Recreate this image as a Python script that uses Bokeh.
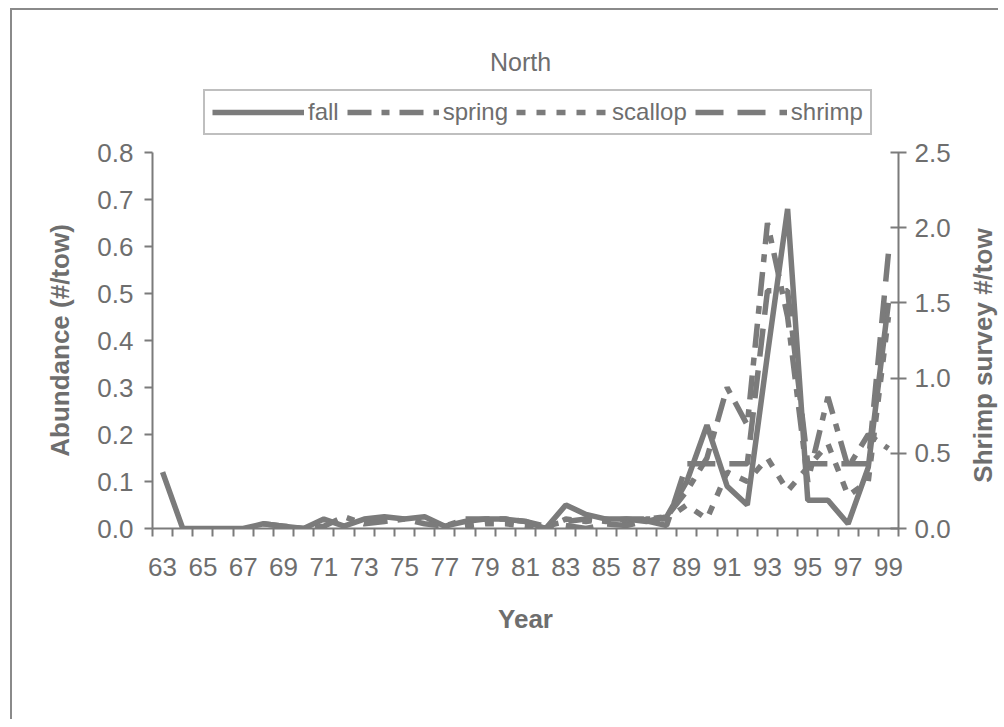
import math
from bokeh.plotting import figure
from bokeh.layouts import column, row
from bokeh.models import (Range1d, LinearAxis, FixedTicker, Legend, LegendItem, Label,
                          PrintfTickFormatter)
from bokeh.embed import file_html
from bokeh.resources import INLINE

nan = float("nan")

years = [63, 64, 65, 66, 67, 68, 69, 70, 71, 72, 73, 74, 75, 76, 77, 78, 79, 80, 81,
         82, 83, 84, 85, 86, 87, 88, 89, 90, 91, 92, 93, 94, 95, 96, 97, 98, 99]
year_labels = [63, 65, 67, 69, 71, 73, 75, 77, 79, 81, 83, 85, 87, 89, 91, 93, 95, 97, 99]

fall = [0.12, 0.0, 0.0, 0.0, 0.0, 0.01, 0.005, 0.0, 0.02, 0.005,
        0.02, 0.025, 0.02, 0.025, 0.005, 0.015, 0.02, 0.02, 0.015, 0.0,
        0.05, 0.03, 0.02, 0.02, 0.015, 0.025, 0.1, 0.22, 0.09, 0.05,
        0.37, 0.68, 0.06, 0.06, 0.01, 0.13, 0.48]
spring = [nan, nan, nan, nan, nan, 0.01, 0.005, 0.0, 0.005, 0.025,
          0.01, 0.015, 0.02, 0.01, 0.005, 0.02, 0.02, 0.02, 0.015, 0.005,
          0.015, 0.02, 0.015, 0.02, 0.02, 0.025, 0.08, 0.15, 0.30, 0.22,
          0.65, 0.45, 0.10, 0.28, 0.13, 0.20, 0.17]
scallop = [nan, nan, nan, nan, nan, nan, nan, nan, nan, nan,
           nan, nan, nan, nan, nan, 0.005, 0.01, 0.01, 0.005, 0.0,
           0.02, 0.015, 0.02, 0.01, 0.02, 0.02, 0.05, 0.02, 0.12, 0.10,
           0.15, 0.08, 0.13, 0.18, 0.07, 0.10, 0.45]
shrimp = [nan, nan, nan, nan, nan, nan, nan, nan, nan, nan,
          nan, nan, nan, nan, nan, nan, nan, nan, nan, nan,
          0.02, 0.0, 0.03, 0.02, 0.05, 0.02, 0.43, 0.43, 0.43, 0.43,
          1.58, 1.58, 0.43, 0.43, 0.43, 0.43, 1.83]

series_names = ["fall", "spring", "scallop", "shrimp"]
left_ticks = [0.0, 0.1, 0.2, 0.3, 0.4, 0.5, 0.6, 0.7, 0.8]
right_ticks = [0.0, 0.5, 1.0, 1.5, 2.0, 2.5]

GRAY = "#7b7b7b"
TXT = "#6e6e6e"
FONT = "Liberation Sans"
W = 5.5
DASHES = ["solid", "24 10 8 10", "9 11", "28 14"]

TOTAL_W = 986
TOP_H = 126
BOT_H = 709 - TOP_H
STRIP_W = 44
MAIN_W = TOTAL_W - STRIP_W
B_LEFT, B_TOP, B_BOTTOM = 140, 16, 191
FRAME_W = 746
B_RIGHT = MAIN_W - B_LEFT - FRAME_W

# ---------- top strip: title + legend (x in page pixels, y up from strip bottom) ----------
top = figure(width=TOTAL_W, height=TOP_H, output_backend="svg", toolbar_location=None,
             x_range=Range1d(152, 898), y_range=Range1d(0, TOP_H),
             x_axis_location=None, y_axis_location=None,
             min_border_left=B_LEFT, min_border_right=TOTAL_W - B_LEFT - FRAME_W,
             min_border_top=0, min_border_bottom=0)
top.outline_line_color = None
top.grid.visible = False
top.background_fill_color = "white"
top.border_fill_color = "white"

top.add_layout(Label(x=520, y=75, text="North", text_align="center",
                     text_baseline="middle", text_font=FONT, text_font_size="25px",
                     text_color=TXT))

samples = []
for name, dash in zip(series_names, DASHES):
    samples.append(top.line([nan, nan], [nan, nan], line_color=GRAY, line_width=W,
                            line_dash=dash))

legend = Legend(items=[LegendItem(label=n, renderers=[r]) for n, r in zip(series_names, samples)],
                orientation="horizontal", location=(51, 1))
legend.border_line_color = "#808080"
legend.border_line_width = 2
legend.label_text_font = FONT
legend.label_text_font_size = "24px"
legend.label_text_color = TXT
legend.glyph_width = 92
legend.glyph_height = 28
legend.label_standoff = 4
legend.spacing = 8
legend.padding = 7
legend.margin = 0
legend.background_fill_alpha = 1.0
top.add_layout(legend, "center")

# ---------- main chart ----------
p = figure(width=MAIN_W, height=BOT_H, output_backend="svg", toolbar_location=None,
           x_range=Range1d(62.5, 99.5), y_range=Range1d(0, 0.8),
           min_border_left=B_LEFT, min_border_right=B_RIGHT, min_border_top=B_TOP,
           min_border_bottom=B_BOTTOM)
p.extra_y_ranges = {"right": Range1d(0, 2.5)}
p.outline_line_color = None
p.grid.visible = False
p.background_fill_color = "white"
p.border_fill_color = "white"

p.line(years, fall, line_color=GRAY, line_width=W)
p.line(years, spring, line_color=GRAY, line_width=W, line_dash=DASHES[1])
p.line(years, scallop, line_color=GRAY, line_width=W, line_dash=DASHES[2])
p.line(years, shrimp, line_color=GRAY, line_width=W, line_dash=DASHES[3],
       y_range_name="right")


def style_axis(ax):
    ax.axis_line_color = GRAY
    ax.axis_line_width = 2
    ax.major_tick_line_color = GRAY
    ax.major_tick_line_width = 2
    ax.minor_tick_line_color = GRAY
    ax.minor_tick_line_width = 2
    ax.major_label_text_font = FONT
    ax.major_label_text_font_size = "26px"
    ax.major_label_text_color = TXT
    ax.axis_label_text_font = FONT
    ax.axis_label_text_font_size = "26px"
    ax.axis_label_text_font_style = "bold"
    ax.axis_label_text_color = TXT


xa = p.xaxis[0]
style_axis(xa)
xa.ticker = FixedTicker(ticks=year_labels,
                        minor_ticks=[y - 0.5 for y in years] + [99.5])
xa.major_tick_line_color = None
xa.minor_tick_in = 0
xa.minor_tick_out = 8
xa.major_label_standoff = 21
xa.axis_label = "Year"
xa.axis_label_standoff = 25

ya = p.yaxis[0]
style_axis(ya)
ya.ticker = FixedTicker(ticks=left_ticks)
ya.minor_tick_line_color = None
ya.major_tick_in = 0
ya.major_tick_out = 8
ya.major_label_standoff = 11
ya.formatter = PrintfTickFormatter(format="%.1f")
ya.axis_label = "Abundance (#/tow)"
ya.axis_label_standoff = 19

ra = LinearAxis(y_range_name="right", ticker=FixedTicker(ticks=right_ticks),
                formatter=PrintfTickFormatter(format="%.1f"))
style_axis(ra)
ra.minor_tick_line_color = None
ra.major_tick_in = 8
ra.major_tick_out = 8
ra.major_label_standoff = 8
p.add_layout(ra, "right")

# ---------- right strip: right axis title reading bottom-to-top ----------
strip = figure(width=STRIP_W, height=BOT_H, output_backend="svg", toolbar_location=None,
               x_range=Range1d(0, STRIP_W), y_range=Range1d(0, 0.8),
               x_axis_location=None, y_axis_location=None,
               min_border_left=0, min_border_right=0, min_border_top=B_TOP,
               min_border_bottom=B_BOTTOM)
strip.outline_line_color = None
strip.grid.visible = False
strip.background_fill_color = "white"
strip.border_fill_color = "white"
strip.add_layout(Label(x=28, y=0.368, text="Shrimp survey #/tow", angle=math.pi / 2,
                       text_align="center", text_baseline="middle", text_font=FONT,
                       text_font_size="26px", text_font_style="bold", text_color=TXT))

layout = column(top, row(p, strip, spacing=0), spacing=0,
                styles={"border-top": "2px solid #8a8a8a", "border-left": "2px solid #8a8a8a",
                        "margin-left": "10px", "margin-top": "8px"})

open("out.html", "w").write(file_html(layout, INLINE))
